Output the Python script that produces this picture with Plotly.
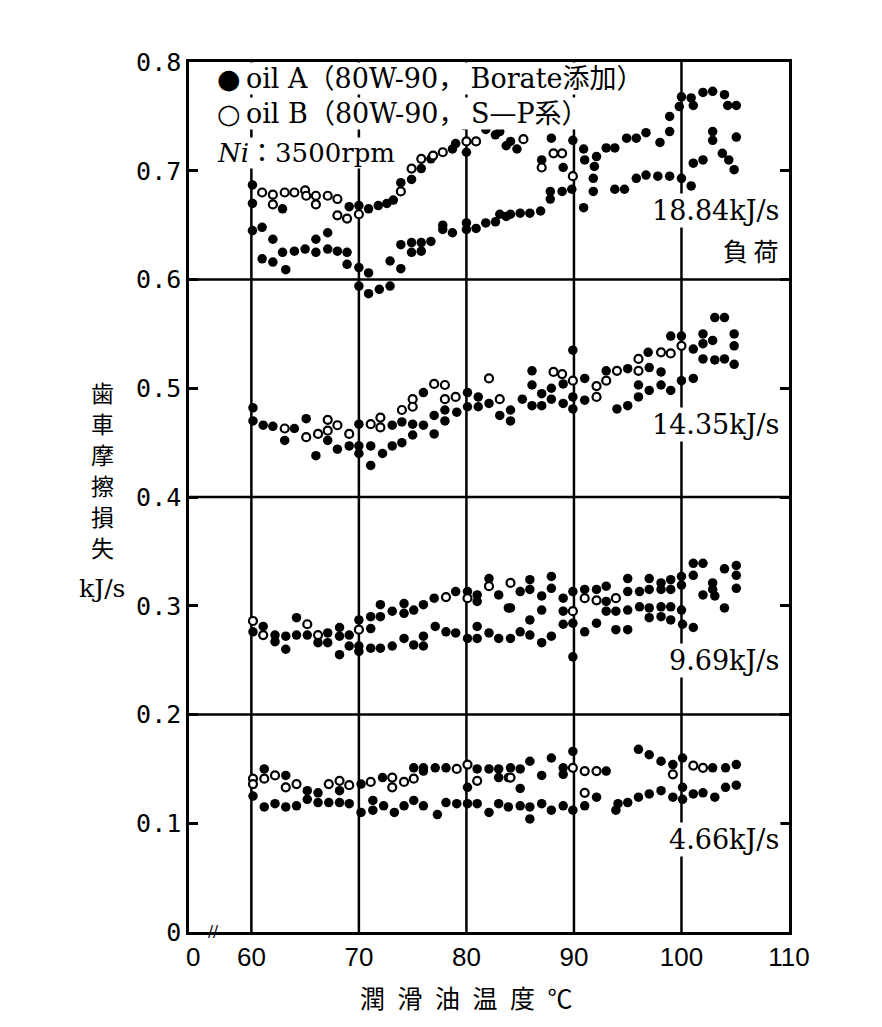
import plotly.graph_objects as go

# ---------------- data (temperature °C, gear friction loss kJ/s) ----------------
# 18.84 kJ/s load
oilA_1884 = [(60.1,0.687),(60.1,0.670),(62.9,0.665),(69.1,0.667),(70.0,0.668),(70.9,0.665),(71.8,0.668),
             (72.6,0.670),(73.2,0.673),(73.9,0.689),(74.9,0.692),(75.8,0.702),(76.7,0.711),(78.7,0.720),
             (79.0,0.725),(80.0,0.717),(81.8,0.738),(82.7,0.733),(83.7,0.723),(83.1,0.736),(84.1,0.727),
             (84.7,0.720),(87.0,0.710),(87.9,0.730),(89.0,0.703),(89.9,0.728),(90.9,0.720),(91.0,0.710),
             (91.9,0.704),(92.1,0.713),(93.0,0.721),(93.8,0.721),(94.9,0.730),(95.8,0.730),(96.7,0.735),
             (98.0,0.726),(98.9,0.736),(98.9,0.750),(99.8,0.759),(100.0,0.768),(100.9,0.767),(101.1,0.760),
             (102.0,0.772),(102.9,0.773),(104.0,0.770),(104.3,0.760),(105.1,0.760),
             (60.1,0.645),(61.0,0.648),(61.0,0.619),(62.0,0.637),(62.0,0.616),(62.9,0.625),(63.2,0.609),
             (64.0,0.626),(65.0,0.628),(66.0,0.637),(66.0,0.625),(67.1,0.643),(67.1,0.628),(68.0,0.626),
             (68.9,0.625),(68.9,0.614),(70.0,0.611),(70.9,0.606),(70.0,0.594),(70.9,0.587),(71.9,0.591),
             (72.9,0.594),(72.9,0.617),(73.9,0.632),(73.9,0.610),(74.9,0.634),(74.9,0.625),(75.8,0.634),
             (75.8,0.626),(76.7,0.635),(77.8,0.646),(77.8,0.650),(78.7,0.643),(80.0,0.652),(80.0,0.646),
             (80.9,0.647),(81.8,0.652),(82.7,0.653),(83.7,0.658),(83.1,0.660),(84.1,0.660),(85.0,0.661),
             (85.9,0.661),(86.9,0.663),(87.8,0.674),(87.8,0.681),(88.9,0.681),(89.8,0.683),(90.9,0.666),
             (91.8,0.681),(91.8,0.693),(93.8,0.683),(94.7,0.683),(95.8,0.693),(96.7,0.696),(97.8,0.695),
             (98.9,0.695),(100.0,0.693),(100.9,0.686),(101.1,0.707),(102.0,0.710),(102.9,0.728),
             (102.9,0.736),(103.8,0.716),(104.4,0.710),(104.9,0.701),(105.1,0.731)]
oilB_1884 = [(61.0,0.680),(62.0,0.678),(62.0,0.669),(63.1,0.680),(64.0,0.680),(65.0,0.682),(65.1,0.677),
             (66.0,0.677),(66.0,0.669),(67.1,0.677),(68.0,0.674),(68.0,0.659),(68.9,0.656),(70.0,0.660),
             (73.9,0.681),(74.9,0.702),(75.8,0.711),(76.9,0.714),(77.8,0.717),(80.0,0.727),(79.8,0.742),
             (80.9,0.727),(85.3,0.729),(87.0,0.703),(88.1,0.716),(88.9,0.716),(89.9,0.695)]

# 14.35 kJ/s load
oilA_1435 = [(60.15,0.482),(60.15,0.470),(61.1,0.466),(62.0,0.465),(63.1,0.452),(64.0,0.463),(65.1,0.472),
             (66.0,0.438),(67.1,0.452),(68.0,0.444),(69.1,0.447),(70.0,0.467),(70.0,0.447),(70.0,0.440),
             (71.1,0.429),(71.1,0.447),(72.2,0.440),(73.1,0.466),(73.1,0.447),(74.0,0.469),(74.0,0.450),
             (75.0,0.467),(75.0,0.457),(76.0,0.496),(76.0,0.466),(77.0,0.475),(77.0,0.458),(78.0,0.480),
             (78.0,0.470),(79.1,0.478),(80.1,0.496),(80.1,0.483),(81.1,0.492),(81.1,0.483),(82.1,0.486),
             (83.1,0.475),(84.1,0.480),(84.1,0.470),(85.2,0.490),(86.1,0.516),(86.1,0.503),(86.1,0.484),
             (87.0,0.495),(87.0,0.484),(87.9,0.500),(87.9,0.490),(89.0,0.504),(89.0,0.486),(89.9,0.535),
             (89.9,0.492),(89.9,0.481),(91.0,0.509),(91.0,0.489),(93.0,0.516),(94.0,0.481),(95.0,0.518),
             (95.0,0.484),(96.0,0.503),(96.0,0.492),(96.9,0.533),(97.0,0.519),(97.0,0.498),(98.1,0.515),
             (98.1,0.503),(99.0,0.498),(100.0,0.548),(100.0,0.507),(99.0,0.548),(101.1,0.536),(101.1,0.509),
             (102.0,0.550),(102.0,0.541),(102.0,0.527),(102.9,0.544),(103.1,0.526),(103.1,0.565),
             (104.0,0.565),(104.0,0.527),(104.9,0.550),(104.9,0.539),(104.9,0.522)]
oilB_1435 = [(63.1,0.463),(65.1,0.455),(66.2,0.458),(67.1,0.471),(67.1,0.461),(68.0,0.466),(69.1,0.458),
             (71.1,0.467),(72.0,0.473),(72.0,0.464),(74.0,0.480),(75.0,0.490),(75.0,0.483),(77.0,0.504),
             (78.0,0.503),(78.0,0.490),(79.0,0.492),(82.1,0.509),(83.1,0.490),(88.1,0.515),(88.9,0.513),
             (89.9,0.507),(92.1,0.502),(92.1,0.492),(93.0,0.507),(94.0,0.516),(96.0,0.527),(96.0,0.516),
             (98.1,0.533),(99.0,0.532),(100.0,0.539)]

# 9.69 kJ/s load
oilA_969 = [(60.15,0.276),(61.1,0.281),(62.2,0.273),(62.2,0.267),(63.2,0.272),(63.2,0.260),(64.2,0.289),
            (64.2,0.273),(65.2,0.273),(66.2,0.266),(67.1,0.275),(67.1,0.266),(68.2,0.280),(68.2,0.272),
            (68.2,0.255),(69.1,0.273),(69.1,0.263),(70.0,0.287),(70.0,0.263),(70.0,0.258),(71.1,0.290),
            (71.1,0.279),(71.1,0.261),(72.0,0.301),(72.0,0.290),(72.0,0.261),(73.1,0.295),(73.1,0.263),
            (74.2,0.302),(74.2,0.293),(74.2,0.270),(75.1,0.296),(75.1,0.264),(76.0,0.301),(76.0,0.272),
            (76.0,0.263),(77.0,0.307),(77.1,0.281),(78.1,0.276),(79.0,0.313),(79.0,0.275),(80.1,0.313),
            (80.1,0.270),(81.0,0.310),(81.0,0.304),(81.0,0.281),(81.0,0.270),(82.1,0.325),(82.1,0.275),
            (83.0,0.310),(83.0,0.270),(83.9,0.298),(84.1,0.298),(84.1,0.270),(85.0,0.313),(85.0,0.276),
            (85.9,0.324),(85.9,0.315),(85.9,0.287),(85.9,0.273),(87.0,0.309),(87.0,0.296),(87.0,0.266),
            (87.9,0.327),(87.9,0.316),(87.9,0.272),(89.0,0.307),(89.0,0.295),(89.0,0.283),(89.9,0.313),
            (89.9,0.284),(89.9,0.253),(91.0,0.315),(91.0,0.276),(92.1,0.315),(92.1,0.284),(93.0,0.318),
            (93.0,0.304),(93.0,0.295),(93.9,0.295),(93.9,0.278),(95.0,0.325),(95.0,0.313),(95.0,0.296),
            (95.0,0.278),(96.1,0.313),(96.1,0.299),(97.0,0.325),(97.0,0.315),(97.0,0.298),(97.0,0.289),
            (98.1,0.321),(98.1,0.315),(98.1,0.299),(98.1,0.290),(99.0,0.324),(99.0,0.315),(99.0,0.299),
            (99.0,0.287),(100.0,0.327),(100.0,0.319),(100.0,0.296),(100.1,0.283),(101.1,0.339),
            (101.1,0.328),(101.1,0.280),(102.0,0.339),(102.0,0.310),(102.9,0.321),(102.9,0.315),
            (103.1,0.309),(104.0,0.334),(104.0,0.298),(105.1,0.337),(105.1,0.328),(105.1,0.316)]
oilB_969 = [(60.15,0.286),(61.1,0.273),(65.2,0.283),(66.2,0.273),(70.0,0.278),(78.1,0.308),(80.1,0.307),
            (82.1,0.318),(84.1,0.321),(89.9,0.295),(91.0,0.307),(92.1,0.305),(93.9,0.307)]

# 4.66 kJ/s load
oilA_466 = [(60.15,0.125),(61.2,0.150),(61.2,0.115),(62.2,0.118),(63.2,0.144),(63.2,0.115),(64.2,0.116),
            (65.2,0.130),(65.2,0.122),(66.2,0.128),(66.2,0.119),(67.2,0.119),(68.2,0.130),(68.2,0.119),
            (69.1,0.118),(70.2,0.136),(70.2,0.110),(71.3,0.121),(71.3,0.112),(72.2,0.142),(72.3,0.116),
            (73.3,0.110),(74.2,0.116),(75.1,0.151),(75.1,0.121),(76.0,0.151),(76.0,0.148),(76.0,0.116),
            (77.1,0.151),(77.3,0.108),(78.1,0.151),(78.1,0.119),(79.1,0.118),(80.1,0.133),(80.1,0.118),
            (81.0,0.150),(81.0,0.118),(82.1,0.150),(82.1,0.110),(83.0,0.150),(83.0,0.142),(83.0,0.118),
            (83.9,0.142),(83.9,0.115),(84.1,0.151),(85.0,0.150),(85.0,0.132),(85.0,0.116),(85.9,0.157),
            (85.9,0.115),(85.9,0.104),(87.0,0.144),(87.0,0.118),(87.9,0.160),(87.9,0.112),(89.0,0.151),
            (89.0,0.145),(89.0,0.116),(89.9,0.166),(89.9,0.112),(91.0,0.116),(92.1,0.124),(93.0,0.148),
            (93.9,0.112),(94.1,0.118),(95.0,0.119),(96.0,0.168),(96.0,0.124),(97.0,0.163),(97.0,0.127),
            (98.1,0.157),(98.1,0.130),(99.2,0.154),(99.2,0.124),(100.1,0.160),(100.1,0.133),(100.1,0.122),
            (101.1,0.127),(102.0,0.128),(102.9,0.151),(103.1,0.124),(104.1,0.151),(104.1,0.133),
            (105.1,0.154),(105.1,0.135)]
oilB_466 = [(60.15,0.141),(60.15,0.136),(61.2,0.141),(62.2,0.144),(63.2,0.133),(64.2,0.136),(67.2,0.136),
            (68.2,0.139),(69.1,0.135),(71.1,0.138),(73.1,0.142),(73.1,0.133),(74.2,0.138),(75.1,0.141),
            (79.1,0.150),(80.1,0.154),(81.0,0.139),(84.1,0.142),(89.9,0.151),(91.0,0.148),(91.0,0.128),
            (92.1,0.148),(99.2,0.145),(101.1,0.153),(102.0,0.151)]

# axis ticks / labels
x_grid = [60, 70, 80, 90, 100]
x_tickvals = [54.6, 60, 70, 80, 90, 100, 110]
x_ticktext = ["0", "60", "70", "80", "90", "100", "110"]
y_grid = [0.2, 0.4, 0.6]
y_tickvals = [0, 0.1, 0.2, 0.3, 0.4, 0.5, 0.6, 0.7, 0.8]
y_ticktext = ["0", "0.1", "0.2", "0.3", "0.4", "0.5", "0.6", "0.7", "0.8"]

load_labels = [("18.84kJ/s", 0.663), ("14.35kJ/s", 0.467), ("9.69kJ/s", 0.250), ("4.66kJ/s", 0.085)]
y_title_chars = ["歯", "車", "摩", "擦", "損", "失"]

# ---------------- figure ----------------
fig = go.Figure()
serif = "DejaVu Serif, Noto Sans CJK JP"

for pts in [oilA_1884, oilA_1435, oilA_969, oilA_466]:
    xs, ys = zip(*pts)
    fig.add_trace(go.Scatter(x=xs, y=ys, mode="markers",
                             marker=dict(size=9.5, color="black", line=dict(width=0)),
                             showlegend=False, hoverinfo="skip"))
for pts in [oilB_1884, oilB_1435, oilB_969, oilB_466]:
    xs, ys = zip(*pts)
    fig.add_trace(go.Scatter(x=xs, y=ys, mode="markers",
                             marker=dict(size=8, color="white", line=dict(width=2.2, color="black")),
                             showlegend=False, hoverinfo="skip"))

shapes = []
for gx in x_grid:
    shapes.append(dict(type="line", xref="x", yref="y", x0=gx, x1=gx, y0=0, y1=0.8,
                       line=dict(color="black", width=2.5), layer="below"))
for gy in y_grid:
    shapes.append(dict(type="line", xref="paper", yref="y", x0=0, x1=1, y0=gy, y1=gy,
                       line=dict(color="black", width=2.5), layer="below"))

annotations = []
# legend block
annotations.append(dict(x=56.7, y=0.785, xref="x", yref="y", xanchor="left", yanchor="middle",
                        text="●\u2009oil A（80W-90，\u2009Borate添加）", showarrow=False,
                        font=dict(family=serif, size=27, color="black"), bgcolor="white", borderpad=0))
annotations.append(dict(x=56.7, y=0.753, xref="x", yref="y", xanchor="left", yanchor="middle",
                        text="○\u2009oil B（80W-90，\u2009S—P系）", showarrow=False,
                        font=dict(family=serif, size=27, color="black"), bgcolor="white", borderpad=0))
annotations.append(dict(x=56.7, y=0.716, xref="x", yref="y", xanchor="left", yanchor="middle",
                        text="<i>Ni</i>：3500rpm", showarrow=False,
                        font=dict(family=serif, size=26, color="black"), bgcolor="white", borderpad=0))
# load labels
for txt, yv in load_labels:
    annotations.append(dict(x=109.3, y=yv, xref="x", yref="y", xanchor="right", yanchor="middle",
                            text=txt, showarrow=False,
                            font=dict(family=serif, size=27, color="black"), bgcolor="white", borderpad=1))
annotations.append(dict(x=109.3, y=0.627, xref="x", yref="y", xanchor="right", yanchor="middle",
                        text="負 荷", showarrow=False,
                        font=dict(family="Noto Sans CJK JP", size=25, color="black"), bgcolor="white"))
# axis break mark
annotations.append(dict(x=56.5, y=0, xref="x", yref="y", xanchor="center", yanchor="middle",
                        text="//", showarrow=False, font=dict(family="DejaVu Sans", size=15, color="black")))
# axis titles
annotations.append(dict(x=0.463, y=0, xref="paper", yref="paper", yshift=-65, xanchor="center",
                        yanchor="middle", text="潤\u2002滑\u2002油\u2002温\u2002度\u2002℃", showarrow=False,
                        font=dict(family="Noto Sans CJK JP", size=25, color="black")))
for i, ch in enumerate(y_title_chars):
    annotations.append(dict(x=0, y=1, xref="paper", yref="paper", xshift=-87, yshift=-(330 + 31 * i),
                            xanchor="center", yanchor="middle", text=ch, showarrow=False,
                            font=dict(family="Noto Sans CJK JP", size=23, color="black")))
annotations.append(dict(x=0, y=0.395, xref="paper", yref="paper", xshift=-87, xanchor="center",
                        yanchor="middle", text="kJ/s", showarrow=False,
                        font=dict(family="DejaVu Serif", size=25, color="black")))

fig.update_layout(
    width=882, height=1027,
    margin=dict(l=189, r=93, t=62, b=95),
    paper_bgcolor="white", plot_bgcolor="white",
    shapes=shapes, annotations=annotations,
    xaxis=dict(range=[54.2, 110], tickvals=x_tickvals, ticktext=x_ticktext, showgrid=False,
               zeroline=False, showline=True, linecolor="black", linewidth=2.5, mirror=True,
               ticks="", tickfont=dict(family="Liberation Sans Narrow, Liberation Sans", size=26,
                                       color="black")),
    yaxis=dict(range=[0, 0.8], tickvals=y_tickvals, ticktext=y_ticktext, showgrid=False,
               zeroline=False, showline=True, linecolor="black", linewidth=2.5, mirror="ticks",
               ticks="inside", ticklen=9, tickwidth=2.5, tickcolor="black",
               tickfont=dict(family="DejaVu Sans Mono", size=25, color="black")),
)

fig.write_html("out.html")
